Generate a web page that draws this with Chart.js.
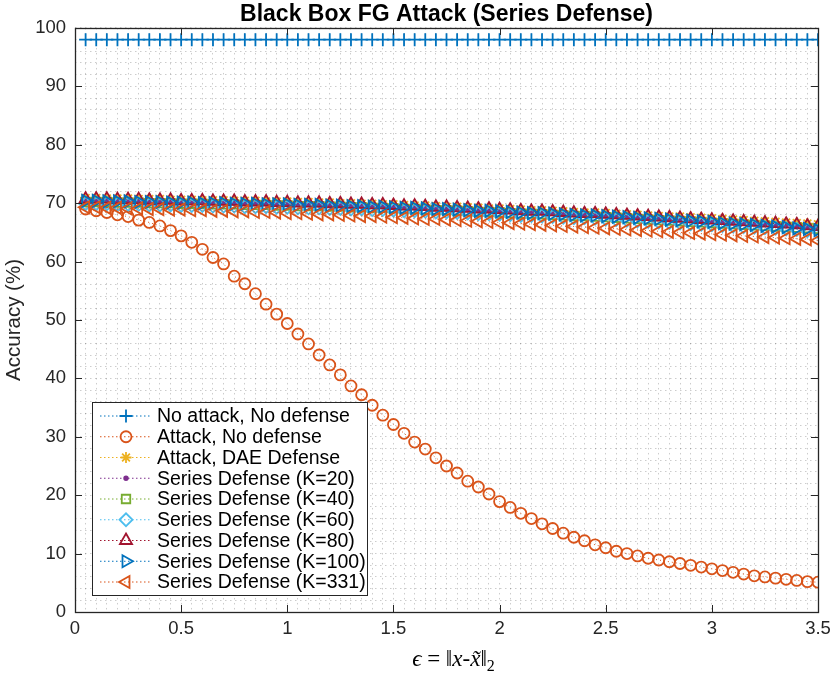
<!DOCTYPE html>
<html>
<head>
<meta charset="utf-8">
<script src="https://cdn.jsdelivr.net/npm/chart.js@4.4.1/dist/chart.umd.min.js"></script>
<style>
html, body { margin: 0; padding: 0; background: #fff; }
#wrap { width: 830px; height: 688px; }
</style>
</head>
<body>
<div id="wrap"><canvas id="accChart"></canvas></div>
<script>
// perturbation size (x axis)
const epsilon = [
    0.05, 0.10, 0.15, 0.20, 0.25, 0.30, 0.35, 0.40, 0.45, 0.50,
    0.55, 0.60, 0.65, 0.70, 0.75, 0.80, 0.85, 0.90, 0.95, 1.00,
    1.05, 1.10, 1.15, 1.20, 1.25, 1.30, 1.35, 1.40, 1.45, 1.50,
    1.55, 1.60, 1.65, 1.70, 1.75, 1.80, 1.85, 1.90, 1.95, 2.00,
    2.05, 2.10, 2.15, 2.20, 2.25, 2.30, 2.35, 2.40, 2.45, 2.50,
    2.55, 2.60, 2.65, 2.70, 2.75, 2.80, 2.85, 2.90, 2.95, 3.00,
    3.05, 3.10, 3.15, 3.20, 3.25, 3.30, 3.35, 3.40, 3.45, 3.50
];

const xTicks = [0, 0.5, 1, 1.5, 2, 2.5, 3, 3.5];
const yTicks = [0, 10, 20, 30, 40, 50, 60, 70, 80, 90, 100];

const noAttack = [
    98.0, 98.0, 98.0, 98.0, 98.0, 98.0, 98.0, 98.0, 98.0, 98.0,
    98.0, 98.0, 98.0, 98.0, 98.0, 98.0, 98.0, 98.0, 98.0, 98.0,
    98.0, 98.0, 98.0, 98.0, 98.0, 98.0, 98.0, 98.0, 98.0, 98.0,
    98.0, 98.0, 98.0, 98.0, 98.0, 98.0, 98.0, 98.0, 98.0, 98.0,
    98.0, 98.0, 98.0, 98.0, 98.0, 98.0, 98.0, 98.0, 98.0, 98.0,
    98.0, 98.0, 98.0, 98.0, 98.0, 98.0, 98.0, 98.0, 98.0, 98.0,
    98.0, 98.0, 98.0, 98.0, 98.0, 98.0, 98.0, 98.0, 98.0, 98.0
];
const attackNoDefense = [
    69.0, 68.7, 68.4, 68.0, 67.7, 67.1, 66.7, 66.1, 65.3, 64.4,
    63.3, 62.1, 60.7, 59.6, 57.5, 56.2, 54.5, 52.7, 51.0, 49.4,
    47.6, 45.9, 44.0, 42.3, 40.6, 38.7, 37.2, 35.4, 33.7, 32.1,
    30.6, 29.1, 27.9, 26.4, 25.0, 23.8, 22.4, 21.4, 20.2, 18.9,
    17.9, 16.9, 16.0, 15.1, 14.3, 13.5, 12.8, 12.2, 11.5, 11.0,
    10.4, 10.0, 9.6, 9.2, 8.9, 8.6, 8.3, 8.0, 7.7, 7.4,
    7.1, 6.8, 6.5, 6.2, 6.0, 5.8, 5.6, 5.4, 5.2, 5.1
];
const daeDefense = [
    70.9, 70.9, 70.8, 70.8, 70.8, 70.7, 70.7, 70.7, 70.6, 70.6,
    70.6, 70.5, 70.5, 70.5, 70.4, 70.4, 70.4, 70.3, 70.3, 70.3,
    70.2, 70.2, 70.1, 70.1, 70.0, 70.0, 69.9, 69.9, 69.8, 69.8,
    69.7, 69.6, 69.6, 69.5, 69.4, 69.4, 69.3, 69.2, 69.1, 69.1,
    69.0, 68.9, 68.8, 68.8, 68.7, 68.6, 68.5, 68.4, 68.4, 68.3,
    68.2, 68.1, 68.0, 67.9, 67.8, 67.7, 67.7, 67.6, 67.5, 67.4,
    67.3, 67.2, 67.1, 67.0, 66.9, 66.8, 66.7, 66.6, 66.5, 66.4
];
const seriesK20 = [
    70.5, 70.5, 70.4, 70.4, 70.4, 70.3, 70.3, 70.3, 70.2, 70.2,
    70.2, 70.1, 70.1, 70.1, 70.0, 70.0, 70.0, 69.9, 69.9, 69.9,
    69.8, 69.8, 69.7, 69.7, 69.6, 69.6, 69.5, 69.5, 69.4, 69.4,
    69.3, 69.2, 69.2, 69.1, 69.0, 69.0, 68.9, 68.8, 68.7, 68.7,
    68.6, 68.5, 68.4, 68.4, 68.3, 68.2, 68.1, 68.0, 68.0, 67.9,
    67.8, 67.7, 67.6, 67.5, 67.4, 67.3, 67.2, 67.1, 67.0, 66.9,
    66.8, 66.7, 66.6, 66.5, 66.4, 66.3, 66.2, 66.0, 65.9, 65.8
];
const seriesK40 = [
    70.2, 70.2, 70.2, 70.1, 70.1, 70.1, 70.0, 70.0, 70.0, 69.9,
    69.9, 69.9, 69.8, 69.8, 69.8, 69.7, 69.7, 69.7, 69.6, 69.6,
    69.5, 69.5, 69.5, 69.4, 69.4, 69.3, 69.3, 69.2, 69.2, 69.1,
    69.0, 69.0, 68.9, 68.8, 68.8, 68.7, 68.6, 68.5, 68.5, 68.4,
    68.3, 68.2, 68.2, 68.1, 68.0, 67.9, 67.8, 67.8, 67.7, 67.6,
    67.5, 67.4, 67.3, 67.2, 67.1, 67.0, 66.9, 66.8, 66.7, 66.6,
    66.5, 66.4, 66.3, 66.2, 66.1, 66.0, 65.9, 65.8, 65.7, 65.6
];
const seriesK60 = [
    69.9, 69.9, 69.9, 69.8, 69.8, 69.8, 69.7, 69.7, 69.7, 69.6,
    69.6, 69.6, 69.5, 69.5, 69.5, 69.4, 69.4, 69.4, 69.3, 69.3,
    69.2, 69.2, 69.2, 69.1, 69.1, 69.0, 69.0, 68.9, 68.9, 68.8,
    68.7, 68.7, 68.6, 68.5, 68.5, 68.4, 68.3, 68.2, 68.2, 68.1,
    68.0, 67.9, 67.9, 67.8, 67.7, 67.6, 67.5, 67.5, 67.4, 67.3,
    67.2, 67.1, 67.0, 66.9, 66.8, 66.7, 66.6, 66.5, 66.4, 66.3,
    66.2, 66.1, 66.0, 65.9, 65.8, 65.7, 65.6, 65.5, 65.3, 65.2
];
const seriesK80 = [
    70.7, 70.7, 70.7, 70.6, 70.6, 70.6, 70.5, 70.5, 70.5, 70.4,
    70.4, 70.4, 70.3, 70.3, 70.3, 70.2, 70.2, 70.2, 70.1, 70.1,
    70.0, 70.0, 70.0, 69.9, 69.9, 69.8, 69.8, 69.7, 69.7, 69.6,
    69.5, 69.5, 69.4, 69.3, 69.3, 69.2, 69.1, 69.0, 69.0, 68.9,
    68.8, 68.7, 68.6, 68.6, 68.5, 68.4, 68.3, 68.2, 68.2, 68.1,
    68.0, 67.9, 67.8, 67.7, 67.6, 67.5, 67.4, 67.3, 67.2, 67.1,
    67.0, 66.9, 66.8, 66.7, 66.6, 66.5, 66.4, 66.3, 66.1, 66.0
];
const seriesK100 = [
    70.4, 70.4, 70.3, 70.3, 70.3, 70.2, 70.2, 70.2, 70.1, 70.1,
    70.1, 70.0, 70.0, 70.0, 69.9, 69.9, 69.9, 69.8, 69.8, 69.8,
    69.7, 69.7, 69.7, 69.6, 69.6, 69.5, 69.5, 69.4, 69.4, 69.3,
    69.2, 69.2, 69.1, 69.0, 69.0, 68.9, 68.8, 68.7, 68.7, 68.6,
    68.5, 68.4, 68.3, 68.3, 68.2, 68.1, 68.0, 67.9, 67.9, 67.8,
    67.7, 67.6, 67.5, 67.4, 67.3, 67.2, 67.1, 67.0, 66.9, 66.8,
    66.6, 66.5, 66.4, 66.3, 66.1, 66.0, 65.9, 65.7, 65.6, 65.4
];
const seriesK331 = [
    69.3, 69.3, 69.2, 69.2, 69.1, 69.1, 69.0, 69.0, 68.9, 68.9,
    68.8, 68.8, 68.7, 68.7, 68.6, 68.6, 68.5, 68.5, 68.4, 68.3,
    68.3, 68.2, 68.1, 68.1, 68.0, 67.9, 67.8, 67.8, 67.7, 67.6,
    67.5, 67.4, 67.3, 67.3, 67.2, 67.1, 67.0, 66.9, 66.8, 66.7,
    66.6, 66.5, 66.4, 66.3, 66.2, 66.1, 66.0, 65.9, 65.8, 65.7,
    65.6, 65.5, 65.4, 65.3, 65.2, 65.1, 65.0, 64.9, 64.8, 64.7,
    64.6, 64.5, 64.4, 64.3, 64.2, 64.1, 64.0, 63.9, 63.8, 63.6
];

const series = [
    { label: 'No attack, No defense', values: noAttack, color: '#0072BD', style: 'cross', radius: 6.5, rotation: 0 },
    { label: 'Attack, No defense', values: attackNoDefense, color: '#D95319', style: 'circle', radius: 5.5, rotation: 0 },
    { label: 'Attack, DAE Defense', values: daeDefense, color: '#EDB120', style: 'star', radius: 5.5, rotation: 0 },
    { label: 'Series Defense (K=20)', values: seriesK20, color: '#7E2F8E', style: 'circle', radius: 1.8, rotation: 0, fill: true },
    { label: 'Series Defense (K=40)', values: seriesK40, color: '#77AC30', style: 'rect', radius: 6, rotation: 0 },
    { label: 'Series Defense (K=60)', values: seriesK60, color: '#4DBEEE', style: 'rectRot', radius: 6.5, rotation: 0 },
    { label: 'Series Defense (K=80)', values: seriesK80, color: '#A2142F', style: 'triangle', radius: 7, rotation: 0 },
    { label: 'Series Defense (K=100)', values: seriesK100, color: '#0072BD', style: 'triangle', radius: 7, rotation: 90 },
    { label: 'Series Defense (K=331)', values: seriesK331, color: '#D95319', style: 'triangle', radius: 7, rotation: -90 }
];

function toPoints(values) {
    return values.map((v, i) => ({ x: epsilon[i], y: v }));
}

function isMajor(v, list) {
    return list.some(t => Math.abs(t - v) < 1e-6);
}

const sansFont = "'Liberation Sans', Arial, Helvetica, sans-serif";
const axisColor = '#262626';

// MATLAB style box, inside ticks, legend and LaTeX-ish xlabel
const matlabFrame = {
    id: 'matlabFrame',
    afterDraw(chart) {
        const ctx = chart.ctx;
        const a = chart.chartArea;
        const xs = chart.scales.x;
        const ys = chart.scales.y;
        ctx.save();
        ctx.strokeStyle = axisColor;
        ctx.lineWidth = 1;
        ctx.setLineDash([]);
        ctx.beginPath();
        xTicks.forEach(v => {
            const px = Math.round(xs.getPixelForValue(v)) + 0.5;
            ctx.moveTo(px, a.bottom); ctx.lineTo(px, a.bottom - 7);
            ctx.moveTo(px, a.top); ctx.lineTo(px, a.top + 7);
        });
        yTicks.forEach(v => {
            const py = Math.round(ys.getPixelForValue(v)) + 0.5;
            ctx.moveTo(a.left, py); ctx.lineTo(a.left + 7, py);
            ctx.moveTo(a.right, py); ctx.lineTo(a.right - 7, py);
        });
        ctx.stroke();
        ctx.lineWidth = 1.3;
        ctx.strokeRect(Math.round(a.left) + 0.5, Math.round(a.top) + 0.5,
            Math.round(a.right - a.left), Math.round(a.bottom - a.top));

        // legend box
        const lx = 92, ly = 402, lw = 275, lh = 193, row = 20.75;
        ctx.fillStyle = '#fff';
        ctx.fillRect(lx, ly, lw, lh);
        ctx.lineWidth = 1;
        ctx.strokeStyle = axisColor;
        ctx.strokeRect(lx + 0.5, ly + 0.5, lw, lh);
        chart.data.datasets.forEach((ds, i) => {
            const cy = ly + 14 + i * row;
            ctx.save();
            ctx.strokeStyle = ds.borderColor;
            ctx.lineWidth = 1;
            ctx.setLineDash([1.5, 2.5]);
            ctx.beginPath();
            ctx.moveTo(100, cy); ctx.lineTo(152, cy);
            ctx.stroke();
            ctx.setLineDash([]);
            ctx.strokeStyle = ds.pointBorderColor;
            ctx.fillStyle = ds.pointBackgroundColor;
            ctx.lineWidth = ds.pointBorderWidth;
            Chart.helpers.drawPoint(ctx, {
                pointStyle: ds.pointStyle,
                radius: ds.pointRadius,
                rotation: ds.pointRotation,
                borderWidth: ds.pointBorderWidth
            }, 126, cy);
            ctx.restore();
            ctx.fillStyle = '#000';
            ctx.font = '19.5px ' + sansFont;
            ctx.textBaseline = 'middle';
            ctx.textAlign = 'left';
            ctx.fillText(ds.label, 157, cy + 1);
        });

        // x label: epsilon = ||x - x~||_2
        const serif = "'Liberation Serif', 'DejaVu Serif', serif";
        const parts = [
            { t: '\u03F5', f: 'italic 23px ' + serif },
            { t: ' = ', f: '23px ' + serif },
            { t: '\u2016', f: '23px ' + serif },
            { t: 'x', f: 'italic 23px ' + serif },
            { t: '-', f: '23px ' + serif },
            { t: 'x\u0303', f: 'italic 23px ' + serif },
            { t: '\u2016', f: '23px ' + serif },
            { t: '2', f: '16px ' + serif, sub: true }
        ];
        let total = 0;
        parts.forEach(p => { ctx.font = p.f; p.w = ctx.measureText(p.t).width; total += p.w; });
        let cx = (a.left + a.right) / 2 + 7 - total / 2;
        ctx.fillStyle = '#000';
        ctx.textBaseline = 'alphabetic';
        parts.forEach(p => {
            ctx.font = p.f;
            ctx.fillText(p.t, cx, p.sub ? 671 : 666);
            cx += p.w;
        });
        ctx.restore();
    }
};

const datasets = series.map((s, i) => ({
    label: s.label,
    data: toPoints(s.values),
    borderColor: s.color,
    backgroundColor: s.color,
    borderWidth: 1,
    borderDash: [1, 3],
    pointStyle: s.style,
    pointRadius: s.radius,
    pointHoverRadius: s.radius,
    pointRotation: s.rotation,
    pointBorderColor: s.color,
    pointBackgroundColor: s.fill ? s.color : 'rgba(0,0,0,0)',
    pointBorderWidth: 1.8,
    order: series.length - i
}));

new Chart(document.getElementById('accChart'), {
    type: 'line',
    data: { datasets: datasets },
    options: {
        responsive: true,
        maintainAspectRatio: false,
        animation: false,
        layout: { padding: { left: 0, right: 12, top: 0, bottom: 0 } },
        plugins: {
            legend: { display: false },
            tooltip: { enabled: false },
            title: {
                display: true,
                fullSize: false,
                text: 'Black Box FG Attack (Series Defense)',
                color: '#000',
                font: { family: sansFont, size: 23, weight: 'bold', lineHeight: 1.15 },
                padding: { top: 1, bottom: 0.5 }
            }
        },
        scales: {
            x: {
                type: 'linear',
                min: 0,
                max: 3.5,
                ticks: {
                    stepSize: 0.05,
                    autoSkip: false,
                    maxRotation: 0,
                    color: axisColor,
                    padding: 6,
                    font: { family: sansFont, size: 18.5 },
                    callback: v => isMajor(v, xTicks) ? String(Math.round(v * 2) / 2) : ''
                },
                grid: { color: 'rgba(0,0,0,0.2)', lineWidth: 1, drawTicks: false },
                border: { display: false, dash: [1.5, 3.5] },
                afterFit: s => { s.height = 76; s.paddingLeft = 0; s.paddingRight = 0; }
            },
            y: {
                min: 0,
                max: 100,
                title: {
                    display: true,
                    text: 'Accuracy (%)',
                    color: axisColor,
                    font: { family: sansFont, size: 20.5 },
                    padding: { top: 2, bottom: 0 }
                },
                ticks: {
                    stepSize: 2,
                    autoSkip: false,
                    color: axisColor,
                    padding: 9,
                    font: { family: sansFont, size: 18.5 },
                    callback: v => isMajor(v, yTicks) ? String(v) : ''
                },
                grid: { color: 'rgba(0,0,0,0.2)', lineWidth: 1, drawTicks: false },
                border: { display: false, dash: [1.5, 3.5] },
                afterFit: s => { s.width = 75; s.paddingTop = 0; s.paddingBottom = 0; }
            }
        }
    },
    plugins: [matlabFrame]
});
</script>
</body>
</html>
